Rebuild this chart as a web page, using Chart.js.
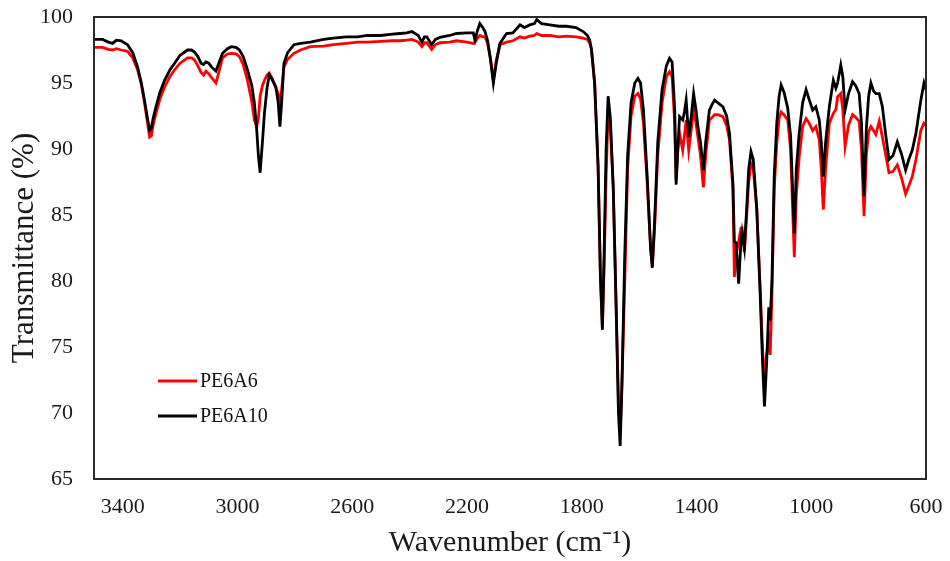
<!DOCTYPE html>
<html><head><meta charset="utf-8">
<script src="https://cdn.jsdelivr.net/npm/chart.js@4.4.1/dist/chart.umd.min.js"></script>
<style>html,body{margin:0;padding:0;background:#fff;} #wrap{width:950px;height:561px;position:relative;}</style>
</head><body><div id="wrap"><canvas id="c" width="950" height="561"></canvas></div>
<script>
// Wavenumber (cm-1), descending
const wavenumbers = [3500,3470,3450,3435,3422,3405,3383,3365,3348,3335,3324,3315,3306,3300,3294,3284,3270,3254,3235,3219,3200,3174,3160,3150,3138,3127,3118,3110,3100,3090,3075,3065,3052,3035,3022,3005,2993,2980,2965,2950,2941,2933,2927,2921,2913,2906,2897,2889,2880,2866,2858,2852,2846,2838,2825,2803,2780,2746,2700,2666,2620,2580,2548,2500,2460,2433,2410,2392,2370,2357,2348,2340,2323,2310,2294,2260,2236,2200,2178,2172,2163,2155,2145,2137,2128,2118,2108,2098,2085,2062,2040,2015,2000,1981,1965,1957,1940,1911,1880,1853,1820,1795,1780,1772,1766,1755,1743,1735,1728,1722,1715,1708,1700,1690,1680,1672,1666,1660,1650,1640,1628,1615,1604,1595,1585,1572,1560,1554,1546,1535,1520,1505,1494,1485,1476,1471,1465,1459,1448,1442,1436,1427,1418,1410,1402,1395,1386,1376,1368,1355,1345,1337,1325,1308,1295,1285,1273,1268,1262,1253,1245,1241,1233,1225,1218,1210,1202,1190,1178,1170,1163,1155,1148,1143,1137,1129,1120,1112,1105,1095,1082,1072,1065,1059,1052,1042,1030,1018,1008,995,984,972,965,958,950,937,923,914,908,897,890,882,870,856,845,833,825,816,808,800,792,783,775,763,752,740,729,715,700,685,671,660,648,635,618,607,600];
// Transmittance (%) of PE6A6 (red)
const pe6a6 = [97.7,97.7,97.55,97.5,97.6,97.5,97.4,96.9,96.0,94.9,93.5,92.2,90.9,91.0,91.8,92.7,93.8,94.7,95.5,96.0,96.5,96.9,96.9,96.75,96.3,95.8,95.6,95.9,95.7,95.4,95.0,95.8,96.9,97.2,97.25,97.2,97.0,96.4,95.2,93.6,92.2,91.7,92.3,94.0,94.8,95.2,95.6,95.75,95.4,94.6,94.2,93.0,94.5,96.2,96.8,97.25,97.5,97.75,97.8,97.9,98.0,98.1,98.1,98.15,98.2,98.2,98.25,98.3,98.1,97.75,98.05,98.05,97.55,97.9,98.05,98.1,98.2,98.1,98.0,98.1,98.4,98.6,98.5,98.5,98.0,96.8,95.2,96.7,97.9,98.1,98.2,98.5,98.4,98.55,98.6,98.75,98.6,98.6,98.5,98.55,98.5,98.4,98.3,98.0,97.6,95.0,88.7,80.5,76.5,81.0,88.0,92.7,91.5,87.0,78.0,71.0,68.5,72.0,80.0,88.5,92.5,94.0,94.2,93.8,92.0,87.5,82.5,81.1,84.0,89.5,93.5,95.5,95.86,95.5,92.0,87.7,90.0,91.2,89.9,91.0,92.2,89.9,91.5,93.0,92.0,90.9,89.5,87.1,89.5,92.2,92.4,92.6,92.6,92.45,91.8,90.7,87.0,80.3,82.0,83.0,84.0,84.0,82.2,85.0,87.5,88.9,88.5,85.5,79.5,75.0,72.5,74.5,75.5,74.4,79.0,87.0,90.5,92.3,92.8,92.6,92.2,90.0,85.5,81.8,86.5,89.4,91.7,92.3,92.0,91.4,91.7,90.7,88.5,85.4,88.5,91.95,92.7,93.0,93.96,94.2,93.0,90.2,91.8,92.6,92.4,92.1,90.0,84.9,89.5,91.3,91.7,91.4,91.1,92.1,90.9,89.5,88.2,88.3,88.8,87.8,86.6,87.2,87.9,89.2,91.4,91.95,91.8];
// Transmittance (%) of PE6A10 (black)
const pe6a10 = [98.3,98.3,98.1,98.0,98.25,98.2,97.9,97.3,96.2,95.0,93.7,92.5,91.4,91.6,92.3,93.2,94.3,95.2,96.0,96.5,97.1,97.5,97.5,97.35,97.0,96.5,96.4,96.6,96.5,96.2,95.9,96.5,97.25,97.6,97.75,97.7,97.5,97.0,96.0,94.8,93.5,91.5,89.5,88.2,90.5,92.7,94.6,95.6,95.3,94.7,93.5,91.7,93.5,96.5,97.3,97.9,98.0,98.1,98.3,98.4,98.5,98.5,98.6,98.6,98.7,98.75,98.8,98.9,98.6,98.1,98.5,98.5,97.9,98.3,98.45,98.6,98.75,98.8,98.8,98.25,99.0,99.5,99.2,98.9,98.2,96.8,95.0,96.5,98.0,98.75,98.8,99.4,99.2,99.4,99.5,99.8,99.5,99.4,99.3,99.3,99.2,98.9,98.6,98.25,97.5,95.0,88.7,80.5,76.3,82.0,90.0,94.0,92.3,87.0,78.0,70.0,67.5,72.0,82.0,89.5,93.5,95.0,95.35,95.0,93.0,88.0,82.5,81.0,84.5,90.5,94.5,96.3,96.87,96.6,93.0,87.3,90.0,92.45,92.2,92.8,93.7,90.9,92.5,94.2,93.0,91.7,90.5,88.4,90.5,92.95,93.4,93.7,93.5,93.2,92.5,91.2,87.4,83.0,82.9,79.8,83.0,83.7,82.5,85.5,88.5,89.8,89.2,85.5,79.0,74.0,70.5,74.0,78.0,77.0,80.0,88.0,92.0,94.0,94.85,94.3,93.1,91.0,87.0,83.6,88.5,91.2,93.5,94.5,93.8,92.95,93.2,92.2,90.5,87.9,90.5,93.2,95.2,94.6,95.0,96.36,95.5,92.95,94.2,95.1,94.8,94.2,92.0,86.4,91.5,94.0,95.0,94.4,94.2,94.2,93.2,91.0,89.2,89.5,90.55,89.6,88.4,89.2,89.9,91.2,93.7,95.0,94.5];
const seriesNames = ['PE6A6', 'PE6A10'];
const seriesColors = ['#ff0000', '#000000'];
const xTicks = [3400, 3000, 2600, 2200, 1800, 1400, 1000, 600];
const yTicks = [65, 70, 75, 80, 85, 90, 95, 100];

const SERIF = '"Liberation Serif", "Times New Roman", serif';

const toPts = (vals) => wavenumbers.map((w, i) => ({x: w, y: vals[i]}));

const framePlugin = {
  id: 'frame',
  afterDatasetsDraw(chart) {
    const {ctx, chartArea: a} = chart;
    ctx.save();
    ctx.strokeStyle = '#2a2a2a';
    ctx.lineWidth = 2;
    ctx.strokeRect(a.left, a.top, a.right - a.left, a.bottom - a.top);
    ctx.restore();
  }
};

const legendPlugin = {
  id: 'insideLegend',
  afterDraw(chart) {
    const {ctx, chartArea: a} = chart;
    const x0 = a.left + 64, x1 = a.left + 103, tx = a.left + 106;
    const rows = [a.top + 364, a.top + 399];
    ctx.save();
    ctx.font = '20px ' + SERIF;
    ctx.textBaseline = 'middle';
    ctx.fillStyle = '#111';
    seriesNames.forEach((n, i) => {
      ctx.strokeStyle = seriesColors[i];
      ctx.lineWidth = 3;
      ctx.beginPath();
      ctx.moveTo(x0, rows[i]);
      ctx.lineTo(x1, rows[i]);
      ctx.stroke();
      ctx.fillText(n, tx, rows[i] + 1);
    });
    ctx.restore();
  }
};

const zeroPad = s => { s.paddingLeft = 0; s.paddingRight = 0; s.paddingTop = 0; s.paddingBottom = 0; };

new Chart(document.getElementById('c'), {
  type: 'scatter',
  data: {
    datasets: [
      {label: seriesNames[0], data: toPts(pe6a6), showLine: true, borderColor: seriesColors[0], backgroundColor: seriesColors[0], borderWidth: 2.8, pointRadius: 0, tension: 0, order: 1},
      {label: seriesNames[1], data: toPts(pe6a10), showLine: true, borderColor: seriesColors[1], backgroundColor: seriesColors[1], borderWidth: 2.8, pointRadius: 0, tension: 0, order: 0}
    ]
  },
  options: {
    responsive: false,
    animation: false,
    devicePixelRatio: 1,
    layout: {padding: {left: 0, right: 24, top: 17, bottom: 0}},
    plugins: {legend: {display: false}, tooltip: {enabled: false}},
    scales: {
      x: {
        type: 'linear', reverse: true, min: 600, max: 3500,
        afterBuildTicks: s => { s.ticks = xTicks.map(v => ({value: v})); },
        afterFit: s => { s.height = 82; zeroPad(s); },
        grid: {display: false, drawTicks: false},
        border: {display: false},
        ticks: {font: {family: SERIF, size: 22}, color: '#1a1a1a', padding: 15, maxRotation: 0, autoSkip: false, callback: v => String(v)},
        title: {display: true, text: 'Wavenumber (cm\u207B\u00B9)', font: {family: SERIF, size: 30}, color: '#1a1a1a', padding: {top: 0, bottom: 0}}
      },
      y: {
        min: 65, max: 100,
        afterBuildTicks: s => { s.ticks = yTicks.map(v => ({value: v})); },
        afterFit: s => { s.width = 94; zeroPad(s); },
        grid: {display: false, drawTicks: false},
        border: {display: false},
        ticks: {font: {family: SERIF, size: 22}, color: '#1a1a1a', padding: 21, callback: v => String(v)},
        title: {display: true, text: 'Transmittance (%)', font: {family: SERIF, size: 31}, color: '#1a1a1a', padding: {top: 6, bottom: 0}}
      }
    }
  },
  plugins: [framePlugin, legendPlugin]
});
</script>
</body></html>
